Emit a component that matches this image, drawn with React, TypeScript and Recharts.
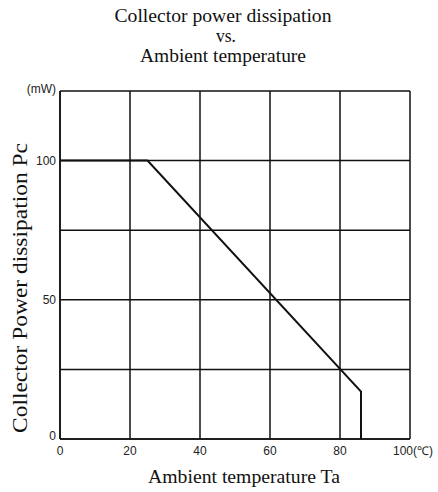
import { LineChart, Line, XAxis, YAxis, CartesianGrid } from "recharts"

const temperature = [0, 25, 86, 86]
const power = [100, 100, 17, 0]
const xTicks = [0, 20, 40, 60, 80, 100]
const yTicks = [0, 25, 50, 75, 100, 125]
const yTickLabels: Record<number, string> = { 0: "0", 50: "50", 100: "100", 125: "(mW)" }

const titleLines = ["Collector power dissipation", "vs.", "Ambient temperature"]
const xTitle = "Ambient temperature Ta"
const yTitle = "Collector Power dissipation  Pc"

const data = temperature.map((t, i) => ({ t, pc: power[i] }))

const tickFont = { fontFamily: "Liberation Sans, Arial, sans-serif", fontSize: 12, fill: "#222" }

function XTick(props: any) {
  const { x, y, payload } = props
  const v = payload.value
  const label = v === 100 ? "100(\u2103)" : String(v)
  return (
    <text x={v === 100 ? x + 3 : x} y={y + 8} textAnchor="middle" style={tickFont}>
      {label}
    </text>
  )
}

function YTick(props: any) {
  const { x, y, payload } = props
  const label = yTickLabels[payload.value]
  if (!label) return null
  return (
    <text x={x + 4} y={y + (payload.value === 0 ? 1 : payload.value === 125 ? 2 : 4)} textAnchor="end" style={tickFont}>
      {label}
    </text>
  )
}

export default function App() {
  const serif = "Liberation Serif, Times New Roman, serif"
  const titleWidths = [217, 20, 166]
  const titleX = [223, 226, 223]
  return (
    <div style={{ position: "fixed", left: 0, top: 0, width: 438, height: 492, background: "#fff" }}>
      <LineChart width={438} height={492} data={data} margin={{ top: 91, right: 28, left: 0, bottom: 0 }}>
        <CartesianGrid stroke="#111" strokeWidth={1.5} horizontalValues={yTicks} verticalValues={xTicks} />
        <XAxis
          type="number"
          dataKey="t"
          domain={[0, 100]}
          ticks={xTicks}
          height={53}
          axisLine={{ stroke: "#111", strokeWidth: 1.5 }}
          tickLine={false}
          tick={<XTick />}
          interval={0}
        />
        <YAxis
          type="number"
          domain={[0, 125]}
          ticks={yTicks}
          width={60}
          axisLine={{ stroke: "#111", strokeWidth: 1.5 }}
          tickLine={false}
          tick={<YTick />}
          interval={0}
        />
        <Line type="linear" dataKey="pc" stroke="#111" strokeWidth={2} dot={false} isAnimationActive={false} />
      </LineChart>
      <svg width={438} height={492} style={{ position: "absolute", left: 0, top: 0, pointerEvents: "none" }}>
        {titleLines.map((s, i) => (
          <text
            key={s}
            x={titleX[i]}
            y={22 + i * 20}
            textAnchor="middle"
            fontFamily={serif}
            fontSize={19}
            fill="#111"
            textLength={titleWidths[i]}
            lengthAdjust="spacingAndGlyphs"
          >
            {s}
          </text>
        ))}
        <text
          x={244}
          y={483}
          textAnchor="middle"
          fontFamily={serif}
          fontSize={19}
          fill="#111"
          textLength={192}
          lengthAdjust="spacingAndGlyphs"
        >
          {xTitle}
        </text>
        <text
          x={0}
          y={0}
          transform="translate(27,288) rotate(-90)"
          textAnchor="middle"
          fontFamily={serif}
          fontSize={20}
          fill="#111"
          textLength={290}
          lengthAdjust="spacingAndGlyphs"
        >
          {yTitle}
        </text>
      </svg>
    </div>
  )
}
